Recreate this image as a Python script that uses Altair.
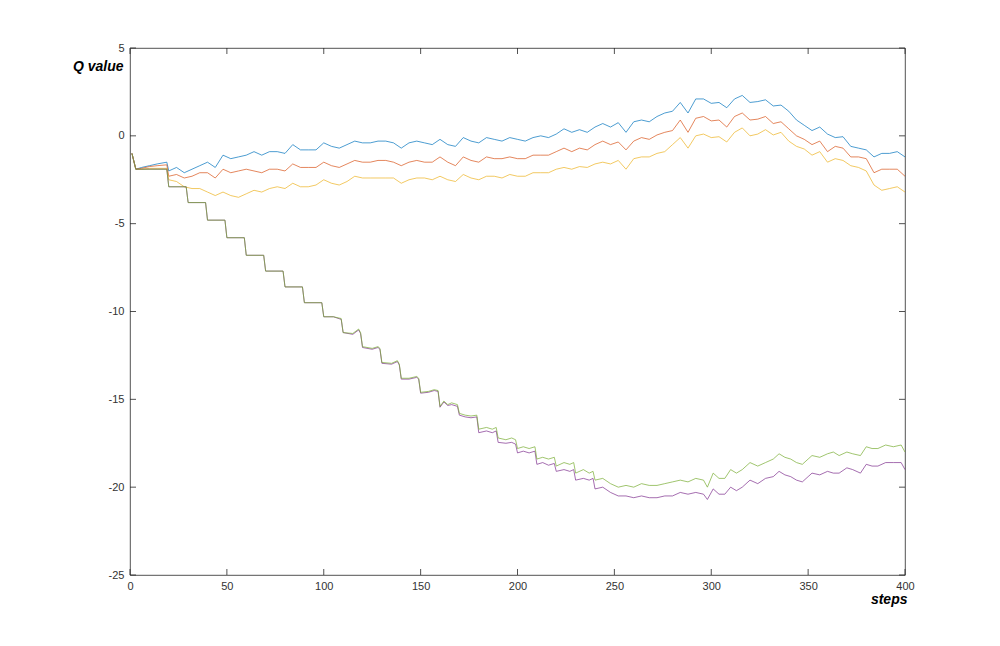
import altair as alt
import pandas as pd

# ---------------- data ----------------
x_ticks = [0, 50, 100, 150, 200, 250, 300, 350, 400]
y_ticks = [-25, -20, -15, -10, -5, 0, 5]

series_names = ["s1", "s2", "s3", "s4", "s5"]
series_colors = ["#0072BD", "#D95319", "#EDB120", "#7E2F8E", "#77AC30"]

upper_steps = [1, 3, 6, 10, 14, 19] + list(range(20, 401, 4))

blue_vals = [
    -1.0, -1.9, -1.8, -1.7, -1.6, -1.5,
    -2.0, -1.8, -2.1, -1.9, -1.7, -1.5, -1.8, -1.1, -1.3, -1.2,
    -1.1, -0.9, -1.1, -0.9, -0.9, -1.0, -0.5, -0.8, -0.8, -0.8,
    -0.4, -0.6, -0.7, -0.5, -0.3, -0.4, -0.4, -0.3, -0.3, -0.4,
    -0.7, -0.4, -0.3, -0.4, -0.5, -0.2, -0.5, -0.6, -0.1, -0.3,
    -0.4, -0.1, -0.2, -0.3, -0.1, -0.2, -0.3, -0.1, 0.0, -0.1,
    0.1, 0.4, 0.2, 0.35, 0.2, 0.5, 0.7, 0.5, 0.75, 0.2,
    0.8, 0.9, 0.8, 1.1, 1.3, 1.4, 1.9, 1.3, 2.1, 2.1,
    1.85, 1.9, 1.6, 2.1, 2.3, 1.9, 1.95, 2.05, 1.7, 1.75,
    1.4, 0.9, 0.6, 0.3, 0.5, 0.1, -0.1, -0.05, -0.6, -0.7,
    -0.8, -1.2, -1.0, -1.0, -0.9, -1.2,
]

red_vals = [
    -1.0, -1.9, -1.85, -1.75, -1.7, -1.65,
    -2.3, -2.2, -2.4, -2.3, -2.1, -2.1, -2.4, -1.9, -2.1, -2.0,
    -1.9, -2.0, -2.1, -1.9, -1.9, -2.0, -1.6, -1.8, -1.8, -1.8,
    -1.5, -1.7, -1.8, -1.6, -1.4, -1.5, -1.5, -1.4, -1.4, -1.5,
    -1.7, -1.5, -1.4, -1.5, -1.5, -1.2, -1.5, -1.7, -1.2, -1.4,
    -1.5, -1.2, -1.3, -1.3, -1.2, -1.3, -1.3, -1.1, -1.1, -1.1,
    -0.9, -0.7, -0.9, -0.7, -0.8, -0.5, -0.3, -0.5, -0.35, -0.8,
    -0.3, -0.1, -0.2, 0.05, 0.2, 0.3, 0.9, 0.2, 1.0, 1.1,
    0.85, 0.9, 0.5, 1.1, 1.3, 0.9, 0.95, 1.1, 0.7, 0.8,
    0.4, 0.0, -0.2, -0.5, -0.3, -0.9, -0.6, -0.7, -1.2, -1.2,
    -1.3, -2.1, -1.9, -1.9, -1.9, -2.3,
]

yellow_vals = [
    -1.0, -1.9, -1.9, -1.85, -1.85, -1.85,
    -2.5, -2.6, -2.9, -3.0, -3.0, -3.2, -3.4, -3.2, -3.4, -3.5,
    -3.3, -3.1, -3.2, -3.0, -2.9, -3.0, -2.7, -2.9, -2.9, -2.8,
    -2.5, -2.7, -2.8, -2.6, -2.3, -2.4, -2.4, -2.4, -2.4, -2.4,
    -2.7, -2.5, -2.4, -2.4, -2.5, -2.3, -2.5, -2.6, -2.2, -2.4,
    -2.5, -2.3, -2.3, -2.4, -2.2, -2.3, -2.3, -2.1, -2.1, -2.1,
    -1.9, -1.8, -1.9, -1.75, -1.8, -1.6, -1.5, -1.6, -1.4, -1.9,
    -1.3, -1.2, -1.2, -1.0, -0.9, -0.5, -0.1, -0.7, 0.0, 0.1,
    -0.1, -0.05, -0.35, 0.2, 0.45, 0.0, 0.1, 0.35, 0.05, 0.2,
    -0.3, -0.6, -0.75, -1.1, -0.9, -1.5, -1.3, -1.4, -1.7, -1.8,
    -2.0, -2.8, -3.1, -3.0, -2.9, -3.2,
]

lower_steps = [
    1, 3, 19, 20, 29, 30, 39, 40, 49, 50,
    59, 60, 69, 70, 79, 80, 89, 90, 99, 100,
    105, 109, 110, 115, 118, 119, 120, 125, 128, 129,
    130, 135, 138, 139, 140, 144, 148, 149, 150, 154,
    157, 159, 160, 162, 164, 166, 169, 170, 173, 176,
    179, 180, 184, 187, 189, 190, 194, 197, 199, 200,
    203, 206, 209, 210, 213, 216, 219, 220, 224, 227,
    229, 230, 234, 237, 239, 240, 244, 248, 252, 256,
    260, 264, 268, 272, 276, 280, 284, 288, 292, 296,
    298, 301, 304, 307, 310, 313, 316, 320, 324, 328,
    332, 335, 338, 341, 344, 347, 350, 352, 356, 360,
    363, 366, 370, 373, 377, 380, 383, 386, 390, 394,
    398, 400,
]

green_vals = [
    -1.0, -1.9, -1.9, -2.9, -2.9, -3.8, -3.8, -4.8, -4.8, -5.8,
    -5.8, -6.8, -6.8, -7.7, -7.7, -8.6, -8.6, -9.5, -9.5, -10.3,
    -10.3, -10.4, -11.2, -11.25, -11.0, -11.2, -12.0, -12.1, -12.0, -12.1,
    -12.9, -12.95, -12.8, -13.0, -13.8, -13.8, -13.7, -13.8, -14.6, -14.55,
    -14.45, -14.5, -15.4, -15.1, -15.3, -15.2, -15.3, -15.8, -15.9, -15.95,
    -15.9, -16.7, -16.6, -16.7, -16.6, -17.2, -17.3, -17.2, -17.3, -17.8,
    -17.7, -17.8, -17.7, -18.4, -18.3, -18.4, -18.3, -18.8, -18.6, -18.7,
    -18.6, -19.2, -19.0, -19.2, -19.1, -19.6, -19.5, -19.8, -20.0, -19.9,
    -20.0, -19.8, -19.9, -19.9, -19.8, -19.7, -19.6, -19.7, -19.5, -19.6,
    -20.0, -19.2, -19.5, -19.5, -19.0, -19.2, -19.0, -18.6, -18.8, -18.6,
    -18.4, -18.1, -18.3, -18.4, -18.6, -18.7, -18.4, -18.2, -18.3, -18.1,
    -18.0, -18.2, -18.0, -18.1, -18.2, -17.7, -17.8, -17.8, -17.6, -17.7,
    -17.6, -18.0,
]

purple_vals = [
    -1.0, -1.9, -1.9, -2.9, -2.9, -3.8, -3.8, -4.8, -4.8, -5.8,
    -5.8, -6.8, -6.8, -7.7, -7.7, -8.6, -8.6, -9.5, -9.5, -10.3,
    -10.3, -10.45, -11.2, -11.3, -11.05, -11.25, -12.05, -12.15, -12.05, -12.15,
    -12.95, -13.0, -12.85, -13.05, -13.85, -13.85, -13.75, -13.85, -14.65, -14.6,
    -14.5, -14.55, -15.45, -15.15, -15.35, -15.3, -15.4, -15.9, -16.0, -16.05,
    -16.0, -16.9, -16.8, -16.9, -16.8, -17.45, -17.5, -17.45, -17.55, -18.05,
    -17.95, -18.05, -17.95, -18.7, -18.6, -18.75, -18.65, -19.1, -19.0, -19.1,
    -19.0, -19.6, -19.5, -19.6, -19.5, -20.1, -20.0, -20.3, -20.5, -20.5,
    -20.6, -20.5, -20.6, -20.6, -20.5, -20.5, -20.3, -20.4, -20.3, -20.4,
    -20.7, -20.1, -20.4, -20.4, -20.0, -20.2, -20.0, -19.6, -19.8, -19.5,
    -19.4, -19.1, -19.3, -19.4, -19.6, -19.7, -19.4, -19.2, -19.3, -19.1,
    -19.2, -19.2, -18.9, -19.0, -19.2, -18.7, -18.8, -18.8, -18.6, -18.6,
    -18.6, -19.0,
]

# ---------------- tables ----------------
rows = []
for name, steps, vals in [
    ("s1", upper_steps, blue_vals),
    ("s2", upper_steps, red_vals),
    ("s3", upper_steps, yellow_vals),
    ("s4", lower_steps, purple_vals),
    ("s5", lower_steps, green_vals),
]:
    for i, (s, v) in enumerate(zip(steps, vals)):
        rows.append({"series": name, "step": s, "value": v, "idx": i})
df = pd.DataFrame(rows)
xt_df = pd.DataFrame({"step": x_ticks})
yt_df = pd.DataFrame({"value": y_ticks})

W, H = 775, 527
TICK = 6
FONT = "Liberation Sans"
FRAME = "#262626"
xs = alt.Scale(domain=[0, 400], nice=False, zero=False)
ys = alt.Scale(domain=[-25, 5], nice=False, zero=False)

lines = alt.Chart(df).mark_line(strokeWidth=0.7).encode(
    x=alt.X("step:Q", scale=xs, axis=alt.Axis(
        values=x_ticks, ticks=False, tickSize=0, domain=False, grid=False,
        labelFlush=False, labelPadding=5, labelFontSize=11, labelFont=FONT,
        labelColor="#333333",
        title="steps", titleFont=FONT, titleFontSize=14, titleFontWeight="bold",
        titleFontStyle="italic", titleColor="#000000", titleAlign="right",
        titleBaseline="alphabetic", titleX=W + 2, titleY=28)),
    y=alt.Y("value:Q", scale=ys, axis=alt.Axis(
        values=y_ticks, ticks=False, tickSize=0, domain=False, grid=False,
        labelFlush=False, labelPadding=6, labelFontSize=11, labelFont=FONT,
        labelColor="#333333", labelExpr="'' + datum.value",
        title="Q value", titleFont=FONT, titleFontSize=14, titleFontWeight="bold",
        titleFontStyle="italic", titleColor="#000000", titleAngle=0,
        titleAlign="right", titleBaseline="alphabetic", titleX=-7, titleY=22)),
    color=alt.Color("series:N", scale=alt.Scale(domain=series_names, range=series_colors), legend=None),
    order=alt.Order("idx:Q"),
)

# inward tick marks (MATLAB style) on all four sides
rule_kw = dict(color=FRAME, strokeWidth=0.8)
x_bottom = alt.Chart(xt_df).mark_rule(**rule_kw).encode(
    x=alt.X("step:Q", scale=xs), y=alt.value(H), y2=alt.value(H - TICK))
x_top = alt.Chart(xt_df).mark_rule(**rule_kw).encode(
    x=alt.X("step:Q", scale=xs), y=alt.value(0), y2=alt.value(TICK))
y_left = alt.Chart(yt_df).mark_rule(**rule_kw).encode(
    y=alt.Y("value:Q", scale=ys), x=alt.value(0), x2=alt.value(TICK))
y_right = alt.Chart(yt_df).mark_rule(**rule_kw).encode(
    y=alt.Y("value:Q", scale=ys), x=alt.value(W), x2=alt.value(W - TICK))

chart = alt.layer(lines, x_bottom, x_top, y_left, y_right).properties(
    width=W, height=H,
    padding={"left": 122, "top": 40, "right": 87, "bottom": 63},
    autosize=alt.AutoSizeParams(type="none"),
    background="white",
).configure_view(stroke=FRAME, strokeWidth=0.8)

chart.save("out.html", embed_options={"renderer": "svg", "actions": False})
